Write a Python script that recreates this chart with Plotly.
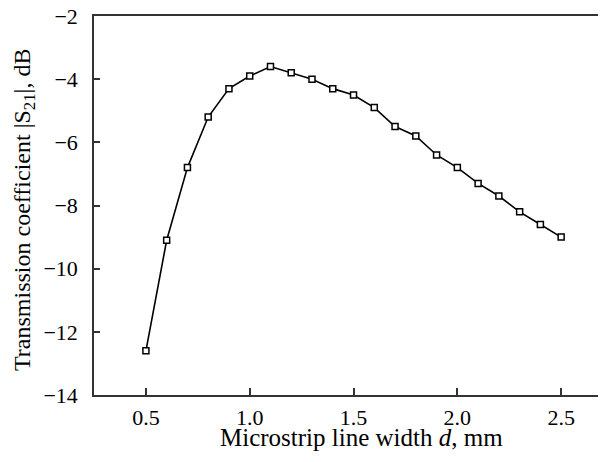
import plotly.graph_objects as go

width_mm = [0.5, 0.6, 0.7, 0.8, 0.9, 1.0, 1.1, 1.2, 1.3, 1.4, 1.5, 1.6, 1.7, 1.8, 1.9, 2.0, 2.1, 2.2, 2.3, 2.4, 2.5]
s21_db = [-12.6, -9.1, -6.8, -5.2, -4.3, -3.9, -3.6, -3.8, -4.0, -4.3, -4.5, -4.9, -5.5, -5.8, -6.4, -6.8, -7.3, -7.7, -8.2, -8.6, -9.0]

x_tickvals = [0.5, 1.0, 1.5, 2.0, 2.5]
x_ticktext = ["0.5", "1.0", "1.5", "2.0", "2.5"]
y_tickvals = [-2, -4, -6, -8, -10, -12, -14]
y_ticktext = ["−2", "−4", "−6", "−8", "−10", "−12", "−14"]
x_title = "Microstrip line width <i>d</i>, mm"
y_title = "Transmission coefficient |S<sub>21</sub>|, dB"

FONT = "Liberation Serif"
AXC = "#333333"

# page body has an 8px default margin; figure sized/margined to compensate
W, H = 598, 454
ML, MT, MB = 86, 8, 67
plot_w = W - ML
plot_h = H - MT - MB

fig = go.Figure()
fig.add_trace(go.Scatter(
    x=width_mm, y=s21_db, mode="lines+markers",
    line=dict(color="black", width=1.6),
    marker=dict(symbol="square", size=6, color="white",
                line=dict(color="black", width=1.5)),
    showlegend=False,
))

fig.update_layout(
    width=W, height=H,
    margin=dict(l=ML, r=0, t=MT, b=MB, autoexpand=False),
    paper_bgcolor="white", plot_bgcolor="white",
    font=dict(family=FONT, size=22, color="black"),
)
fig.update_xaxes(
    range=[0.25, 2.716],
    tickvals=x_tickvals, ticktext=x_ticktext,
    ticks="inside", ticklen=7, tickwidth=1.5, tickcolor=AXC,
    showline=True, linecolor=AXC, linewidth=1.6, mirror=True,
    showgrid=False, zeroline=False, automargin=False,
    tickfont=dict(family=FONT, size=22),
    ticklabelstandoff=2, ticklabeloverflow="allow",
)
fig.update_yaxes(
    range=[-14, -2],
    tickvals=y_tickvals, ticktext=y_ticktext,
    ticks="inside", ticklen=6, tickwidth=1.5, tickcolor=AXC,
    showline=True, linecolor=AXC, linewidth=1.6, mirror=False,
    showgrid=False, zeroline=False, automargin=False,
    tickfont=dict(family=FONT, size=22),
    ticklabelstandoff=10, ticklabeloverflow="allow",
)
fig.add_annotation(
    text=x_title, xref="paper", yref="paper",
    x=(361 - 8 - ML) / plot_w, y=-(437 - 8 - (H - MB)) / plot_h,
    xanchor="center", yanchor="middle", showarrow=False,
    font=dict(family=FONT, size=25),
)
fig.add_annotation(
    text=y_title, xref="paper", yref="paper",
    x=(24 - 8 - ML) / plot_w, y=0.5 - (210 - 205.5) / plot_h,
    xanchor="center", yanchor="middle", showarrow=False, textangle=-90,
    font=dict(family=FONT, size=24),
)

fig.write_html("out.html")
